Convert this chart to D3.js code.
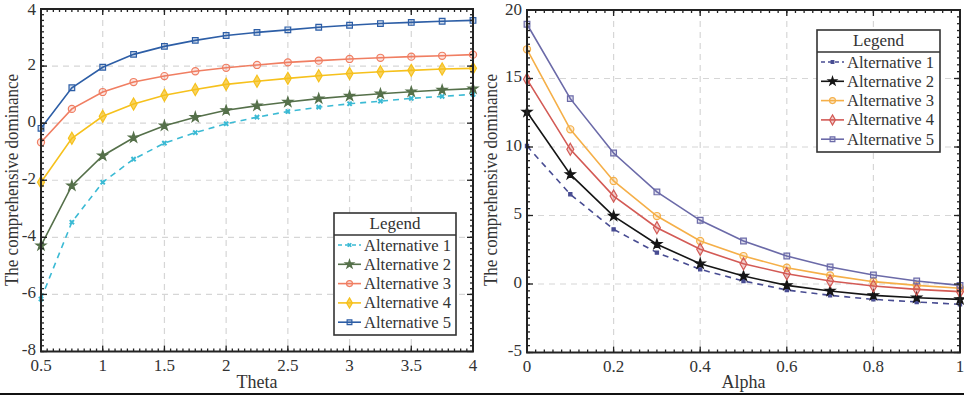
<!DOCTYPE html>
<html>
<head>
<meta charset="utf-8">
<script src="https://cdn.jsdelivr.net/npm/d3@7"></script>
<style>
  html, body { margin: 0; padding: 0; background: #fff; }
  svg { display: block; }
</style>
</head>
<body>
<svg id="chart"></svg>
<script>
// ---- data ----
const theta = [0.5, 0.75, 1, 1.25, 1.5, 1.75, 2, 2.25, 2.5, 2.75, 3, 3.25, 3.5, 3.75, 4];
const thetaAlt1 = [-6.16, -3.47, -2.07, -1.26, -0.70, -0.33, -0.02, 0.21, 0.41, 0.56, 0.68, 0.77, 0.87, 0.94, 1.01];
const thetaAlt2 = [-4.29, -2.19, -1.14, -0.51, -0.09, 0.21, 0.45, 0.61, 0.74, 0.86, 0.95, 1.03, 1.10, 1.16, 1.21];
const thetaAlt3 = [-0.67, 0.50, 1.09, 1.44, 1.65, 1.82, 1.94, 2.04, 2.13, 2.19, 2.25, 2.29, 2.33, 2.36, 2.40];
const thetaAlt4 = [-2.07, -0.53, 0.24, 0.67, 0.98, 1.18, 1.36, 1.47, 1.57, 1.66, 1.74, 1.80, 1.85, 1.90, 1.92];
const thetaAlt5 = [-0.18, 1.24, 1.96, 2.41, 2.69, 2.90, 3.07, 3.18, 3.27, 3.36, 3.43, 3.49, 3.53, 3.57, 3.60];

const alpha = [0, 0.1, 0.2, 0.3, 0.4, 0.5, 0.6, 0.7, 0.8, 0.9, 1];
const alphaAlt1 = [10.07, 6.55, 3.99, 2.29, 1.07, 0.22, -0.44, -0.83, -1.12, -1.31, -1.48];
const alphaAlt2 = [12.55, 8.00, 4.96, 2.90, 1.48, 0.58, -0.10, -0.51, -0.83, -1.00, -1.12];
const alphaAlt3 = [17.13, 11.29, 7.52, 4.96, 3.14, 2.04, 1.19, 0.63, 0.17, -0.10, -0.31];
const alphaAlt4 = [14.94, 9.83, 6.42, 4.11, 2.53, 1.48, 0.75, 0.22, -0.15, -0.39, -0.56];
const alphaAlt5 = [18.96, 13.53, 9.56, 6.72, 4.65, 3.14, 2.04, 1.24, 0.66, 0.22, -0.10];

const seriesNames = ["Alternative 1", "Alternative 2", "Alternative 3", "Alternative 4", "Alternative 5"];

const thetaTicksX = [0.5, 1, 1.5, 2, 2.5, 3, 3.5, 4];
const thetaTicksY = [-8, -6, -4, -2, 0, 2, 4];
const alphaTicksX = [0, 0.2, 0.4, 0.6, 0.8, 1];
const alphaTicksY = [-5, 0, 5, 10, 15, 20];

// ---- layout ----
const W = 964, H = 396;
const FONT = "'Liberation Serif', 'Times New Roman', Times, serif";
const svg = d3.select('#chart').attr('width', W).attr('height', H)
  .attr('font-family', FONT);

const markers = {
  x: d3.symbolCross, star: d3.symbolStar, circle: d3.symbolCircle,
  diamond: d3.symbolDiamond, square: d3.symbolSquare
};

function txt(sel) {
  return sel.append('text').attr('font-family', FONT).attr('fill', '#333');
}

function panel(cfg) {
  const x = d3.scaleLinear().domain(cfg.xDomain).range(cfg.xRange);
  const y = d3.scaleLinear().domain(cfg.yDomain).range(cfg.yRange);
  const g = svg.append('g');
  const [x0, x1] = cfg.xRange, [y0, y1] = cfg.yRange;

  // dashed grid
  g.append('g').selectAll('line').data(cfg.xTicks.slice(1, -1)).join('line')
    .attr('x1', d => x(d)).attr('x2', d => x(d)).attr('y1', y1).attr('y2', y0)
    .attr('stroke', '#d6d6d6').attr('stroke-width', 1.2).attr('stroke-dasharray', '6,5');
  g.append('g').selectAll('line').data(cfg.yTicks.slice(1, -1)).join('line')
    .attr('y1', d => y(d)).attr('y2', d => y(d)).attr('x1', x0).attr('x2', x1)
    .attr('stroke', '#d6d6d6').attr('stroke-width', 1.2).attr('stroke-dasharray', '6,5');

  // series
  cfg.series.forEach(s => {
    const pts = cfg.xs.map((v, j) => [v, s.values[j]]);
    g.append('path').datum(pts)
      .attr('fill', 'none').attr('stroke', s.color).attr('stroke-width', 1.6)
      .attr('stroke-dasharray', s.dash || null)
      .attr('d', d3.line().x(d => x(d[0])).y(d => y(d[1])));
    drawMarkers(g, pts.map(d => [x(d[0]), y(d[1])]), s);
  });

  // box with inward minor/major ticks
  const frame = g.append('g').attr('stroke', '#222').attr('stroke-width', 1.3);
  const minorX = d3.range(cfg.xDomain[0], cfg.xDomain[1] + 1e-9, cfg.xMinor);
  const minorY = d3.range(cfg.yDomain[0], cfg.yDomain[1] + 1e-9, cfg.yMinor);
  minorX.forEach(v => {
    frame.append('line').attr('x1', x(v)).attr('x2', x(v)).attr('y1', y0).attr('y2', y0 - 3);
    frame.append('line').attr('x1', x(v)).attr('x2', x(v)).attr('y1', y1).attr('y2', y1 + 3);
  });
  minorY.forEach(v => {
    frame.append('line').attr('y1', y(v)).attr('y2', y(v)).attr('x1', x0).attr('x2', x0 + 3);
    frame.append('line').attr('y1', y(v)).attr('y2', y(v)).attr('x1', x1).attr('x2', x1 - 3);
  });
  cfg.xTicks.forEach(v => {
    frame.append('line').attr('x1', x(v)).attr('x2', x(v)).attr('y1', y0).attr('y2', y0 - 6);
    frame.append('line').attr('x1', x(v)).attr('x2', x(v)).attr('y1', y1).attr('y2', y1 + 6);
  });
  cfg.yTicks.forEach(v => {
    frame.append('line').attr('y1', y(v)).attr('y2', y(v)).attr('x1', x0).attr('x2', x0 + 6);
    frame.append('line').attr('y1', y(v)).attr('y2', y(v)).attr('x1', x1).attr('x2', x1 - 6);
  });
  frame.append('rect').attr('x', x0).attr('y', y1).attr('width', x1 - x0).attr('height', y0 - y1)
    .attr('fill', 'none').attr('stroke-width', 2);

  // tick labels
  cfg.xTicks.forEach(d => {
    txt(g).attr('x', x(d)).attr('y', y0 + 19).attr('text-anchor', 'middle')
      .attr('font-size', 17).text(d);
  });
  cfg.yTicks.forEach(d => {
    txt(g).attr('x', x0 - 5).attr('y', Math.max(y(d) + 3.5, 15)).attr('text-anchor', 'end')
      .attr('font-size', 17).text(d);
  });

  // axis titles
  txt(g).attr('x', (x0 + x1) / 2).attr('y', 388).attr('text-anchor', 'middle')
    .attr('font-size', 18).text(cfg.xLabel);
  txt(g).attr('transform', `translate(${cfg.yLabelX},180) rotate(-90)`)
    .attr('text-anchor', 'middle').attr('font-size', 18)
    .attr('textLength', 212).attr('lengthAdjust', 'spacingAndGlyphs')
    .text('The comprehensive dominance');

  // legend
  const L = cfg.legend;
  const lg = g.append('g').attr('transform', `translate(${L.x},${L.y})`);
  lg.append('rect').attr('width', L.w).attr('height', L.h).attr('fill', '#fff')
    .attr('stroke', '#333').attr('stroke-width', 1.6);
  lg.append('line').attr('x1', 0).attr('x2', L.w).attr('y1', 22).attr('y2', 22)
    .attr('stroke', '#333').attr('stroke-width', 1.4);
  txt(lg).attr('x', L.w / 2).attr('y', 16).attr('text-anchor', 'middle')
    .attr('font-size', 17).text('Legend');
  cfg.series.forEach((s, i) => {
    const ry = 32 + i * 19.3;
    lg.append('line').attr('x1', 4).attr('x2', 27).attr('y1', ry).attr('y2', ry)
      .attr('stroke', s.color).attr('stroke-width', 1.6).attr('stroke-dasharray', s.dash ? '4,3' : null);
    drawMarkers(lg, [[15.5, ry]], s, 0.7);
    txt(lg).attr('x', 30).attr('y', ry + 5.5).attr('font-size', 17)
      .attr('textLength', L.textW).attr('lengthAdjust', 'spacingAndGlyphs')
      .text(seriesNames[i]);
  });
}

function drawMarkers(g, pts, s, k = 1) {
  const sym = d3.symbol().type(markers[s.marker]).size((s.size || 40) * k);
  g.append('g').selectAll('path').data(pts).join('path')
    .attr('transform', d => `translate(${d[0]},${d[1]})` + (s.marker === 'x' ? ' rotate(45)' : ''))
    .attr('d', sym)
    .attr('fill', s.fill).attr('stroke', s.color).attr('stroke-width', s.marker === 'x' ? 0 : 1.2);
}

panel({
  xDomain: [0.5, 4], xRange: [41, 473],
  yDomain: [-8, 4], yRange: [351.5, 9],
  xTicks: thetaTicksX, yTicks: thetaTicksY, xMinor: 0.05, yMinor: 0.2,
  xs: theta, xLabel: 'Theta', yLabelX: 18,
  legend: { x: 334, y: 213, w: 122, h: 122, textW: 87 },
  series: [
    { values: thetaAlt1, color: '#3BBAD4', fill: '#3BBAD4', marker: 'x', size: 20, dash: '6,5' },
    { values: thetaAlt2, color: '#55704A', fill: '#55704A', marker: 'star', size: 30 },
    { values: thetaAlt3, color: '#F07E62', fill: 'rgba(240,126,98,0.2)', marker: 'circle', size: 40 },
    { values: thetaAlt4, color: '#F6C11C', fill: 'rgba(246,193,28,0.7)', marker: 'diamond', size: 42 },
    { values: thetaAlt5, color: '#2D5EA6', fill: 'rgba(45,94,166,0.2)', marker: 'square', size: 32 }
  ]
});

panel({
  xDomain: [0, 1], xRange: [527, 960],
  yDomain: [-5, 20], yRange: [352.5, 10],
  xTicks: alphaTicksX, yTicks: alphaTicksY, xMinor: 0.02, yMinor: 0.5,
  xs: alpha, xLabel: 'Alpha', yLabelX: 497,
  legend: { x: 817, y: 30, w: 123, h: 122, textW: 87 },
  series: [
    { values: alphaAlt1, color: '#484C92', fill: '#484C92', marker: 'square', size: 10, dash: '6,5' },
    { values: alphaAlt2, color: '#151515', fill: '#151515', marker: 'star', size: 30 },
    { values: alphaAlt3, color: '#F5AF48', fill: 'rgba(245,175,72,0.25)', marker: 'circle', size: 40 },
    { values: alphaAlt4, color: '#D35A55', fill: 'rgba(211,90,85,0.3)', marker: 'diamond', size: 42 },
    { values: alphaAlt5, color: '#6B6AA8', fill: 'rgba(107,106,168,0.2)', marker: 'square', size: 32 }
  ]
});

// bottom rule under both panels
svg.append('line').attr('x1', 0).attr('x2', W).attr('y1', 394).attr('y2', 394)
  .attr('stroke', '#111').attr('stroke-width', 2);
</script>
</body>
</html>
